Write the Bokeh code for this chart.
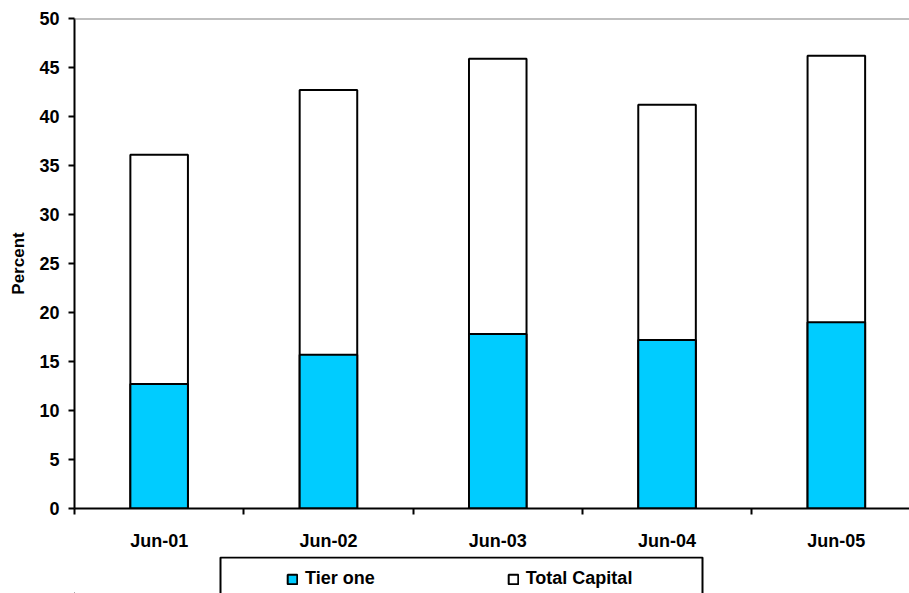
from bokeh.plotting import figure
from bokeh.layouts import column
from bokeh.models import (ColumnDataSource, Range1d, FixedTicker, Span,
                          Legend, LegendItem)
from bokeh.embed import file_html
from bokeh.resources import INLINE

# Capital ratios by period (percent)
periods = ["Jun-01", "Jun-02", "Jun-03", "Jun-04", "Jun-05"]
tier_one = [12.7, 15.7, 17.8, 17.2, 19.0]
total_capital = [36.1, 42.7, 45.9, 41.2, 46.2]
y_ticks = [0, 5, 10, 15, 20, 25, 30, 35, 40, 45, 50]

TIER_COLOR = "#00CCFF"
positions = list(range(1, len(periods) + 1))
src = ColumnDataSource(dict(x=positions, period=periods,
                            tier=tier_one, total=total_capital))

FONT = "Liberation Sans"
W = 909
FRAME_LEFT, FRAME_TOP, FRAME_BOTTOM = 74, 18, 508
CHART_H = 556          # main chart; the legend strip sits below it
LEGEND_H = 593 - CHART_H
CAT_PX = 169.3         # pixel width of one category slot

p = figure(width=W, height=CHART_H, output_backend="svg", toolbar_location=None,
           x_range=Range1d(0.5, 0.5 + (W - FRAME_LEFT) / CAT_PX),
           y_range=Range1d(0, 50),
           min_border_left=FRAME_LEFT, min_border_right=0,
           min_border_top=FRAME_TOP, min_border_bottom=CHART_H - FRAME_BOTTOM)
p.outline_line_color = None
p.grid.visible = False
p.background_fill_color = "white"
p.border_fill_color = "white"

# gray line along the top of the plot area
p.add_layout(Span(location=50, dimension="width", line_color="#808080",
                  line_width=2))

bar_w = 0.34
p.vbar(x="x", top="total", bottom=0, width=bar_w, source=src,
       fill_color="white", line_color="black", line_width=2)
p.vbar(x="x", top="tier", bottom=0, width=bar_w, source=src,
       fill_color=TIER_COLOR, line_color="black", line_width=2)

# x axis: category names at slot centres, ticks at slot boundaries
xa = p.xaxis[0]
xa.ticker = FixedTicker(ticks=positions,
                        minor_ticks=[i + 0.5 for i in range(0, len(periods) + 1)])
xa.major_label_overrides = {i: lab for i, lab in zip(positions, periods)}
xa.major_tick_out = 0
xa.major_tick_in = 0
xa.minor_tick_out = 6
xa.minor_tick_in = 0
xa.minor_tick_line_width = 2
xa.minor_tick_line_color = "black"
xa.axis_line_width = 2
xa.axis_line_color = "black"
xa.major_label_text_font = FONT
xa.major_label_text_font_style = "bold"
xa.major_label_text_font_size = "18px"
xa.major_label_text_color = "black"
xa.major_label_standoff = 16

ya = p.yaxis[0]
ya.ticker = FixedTicker(ticks=y_ticks, minor_ticks=[])
ya.major_tick_out = 6
ya.major_tick_in = 0
ya.major_tick_line_width = 2
ya.major_tick_line_color = "black"
ya.axis_line_width = 2
ya.axis_line_color = "black"
ya.major_label_text_font = FONT
ya.major_label_text_font_style = "bold"
ya.major_label_text_font_size = "18px"
ya.major_label_text_color = "black"
ya.major_label_standoff = 9
ya.axis_label = "Percent"
ya.axis_label_text_font = FONT
ya.axis_label_text_font_style = "bold"
ya.axis_label_text_font_size = "17px"
ya.axis_label_text_color = "black"
ya.axis_label_standoff = 8

# legend strip below the chart; its frame lines up with the chart frame,
# so the x range is given in page pixels
lg = figure(width=W, height=LEGEND_H, output_backend="svg",
            toolbar_location=None, x_range=Range1d(FRAME_LEFT, W),
            y_range=Range1d(0, LEGEND_H),
            min_border_left=FRAME_LEFT, min_border_right=0,
            min_border_top=0, min_border_bottom=0)
lg.axis.visible = False
lg.grid.visible = False
lg.outline_line_color = None
lg.background_fill_color = "white"
lg.border_fill_color = "white"

# legend frame, open at the bottom edge of the page
lg.line(x=[220, 220, 702, 702], y=[-5, LEGEND_H - 1, LEGEND_H - 1, -5],
        line_color="black", line_width=2)

# key swatches (one point each, kept outside the visible range)
key_src = ColumnDataSource(dict(x=[-100], top=[-100]))
k_tier = lg.vbar(x="x", top="top", bottom=-200, width=1, source=key_src,
                 fill_color=TIER_COLOR, line_color="black", line_width=2)
k_total = lg.vbar(x="x", top="top", bottom=-200, width=1, source=key_src,
                  fill_color="white", line_color="black", line_width=2)

legend = Legend(items=[LegendItem(label="Tier one", renderers=[k_tier]),
                       LegendItem(label="Total Capital", renderers=[k_total])],
                orientation="horizontal",
                location=(286 - FRAME_LEFT, 4),
                label_text_font=FONT, label_text_font_style="bold",
                label_text_font_size="18px", label_text_color="black",
                label_height=20, glyph_width=12, glyph_height=12,
                label_standoff=7, spacing=132, padding=0, margin=0,
                border_line_color=None, background_fill_alpha=0)
lg.add_layout(legend, "center")

open("out.html", "w").write(file_html(column(p, lg, spacing=0), INLINE))
